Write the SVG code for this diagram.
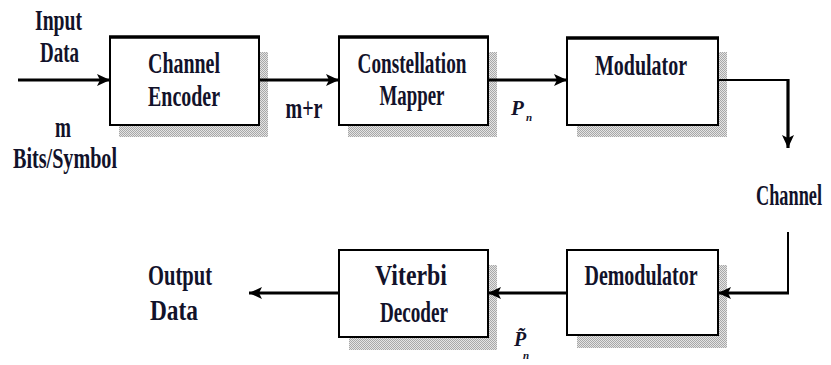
<svg xmlns="http://www.w3.org/2000/svg" width="831" height="365" viewBox="0 0 831 365">
  <style>
    .box { fill: #ffffff; stroke: #000000; stroke-width: 2; }
    .topedge { stroke: #000000; stroke-width: 3.5; }
    .shadow { fill: url(#dither); }
    .lbl { font-family: "Liberation Serif", "Times New Roman", serif; font-weight: bold; font-size: 29px; fill: #12122a; text-anchor: middle; }
    .sym { font-family: "Liberation Serif", "Times New Roman", serif; font-weight: bold; font-style: italic; fill: #12122a; }
    .wire { fill: none; stroke: #000000; stroke-width: 3.2; }
    .thin { fill: none; stroke: #000000; stroke-width: 2; }
  </style>
  <defs>
    <!-- dithered grey used for the drop shadows -->
    <pattern id="dither" width="2" height="2" patternUnits="userSpaceOnUse">
      <rect width="2" height="2" fill="#e4e4e4"/>
      <rect width="1" height="1" fill="#a8a8a8"/>
      <rect x="1" y="1" width="1" height="1" fill="#a8a8a8"/>
    </pattern>
    <marker id="arrow" markerUnits="userSpaceOnUse" markerWidth="14" markerHeight="14" refX="13" refY="7" orient="auto">
      <path d="M0,1 L13,7 L0,13 L3,7 Z" fill="#000000"/>
    </marker>
  </defs>

  <rect width="831" height="365" fill="#ffffff"/>

  <!-- side labels -->
  <g id="input-label">
    <text class="lbl" x="58.5" y="30" textLength="47" lengthAdjust="spacingAndGlyphs">Input</text>
    <text class="lbl" x="59.5" y="62" textLength="39" lengthAdjust="spacingAndGlyphs">Data</text>
    <text class="lbl" x="63" y="137" textLength="16" lengthAdjust="spacingAndGlyphs">m</text>
    <text class="lbl" x="65" y="168" textLength="104" lengthAdjust="spacingAndGlyphs">Bits/Symbol</text>
  </g>

  <g id="output-label">
    <text class="lbl" x="180" y="285" textLength="64" lengthAdjust="spacingAndGlyphs">Output</text>
    <text class="lbl" x="174" y="320" textLength="48" lengthAdjust="spacingAndGlyphs">Data</text>
  </g>

  <!-- narrow label near the right edge: condensed with a scale transform -->
  <g id="channel-label">
    <text class="lbl" transform="translate(789 205) scale(0.63 1)" x="0" y="0">Channel</text>
  </g>

  <!-- blocks -->
  <g id="channel-encoder">
    <rect class="shadow" x="119" y="52" width="149" height="85"/>
    <rect class="box" x="110" y="37" width="149" height="88"/>
    <line class="topedge" x1="109" y1="37" x2="260" y2="37"/>
    <text class="lbl" x="184" y="73" textLength="72" lengthAdjust="spacingAndGlyphs">Channel</text>
    <text class="lbl" x="184" y="106" textLength="72" lengthAdjust="spacingAndGlyphs">Encoder</text>
  </g>

  <g id="constellation-mapper">
    <rect class="shadow" x="348" y="52" width="149" height="85"/>
    <rect class="box" x="339" y="37" width="149" height="88"/>
    <line class="topedge" x1="338" y1="37" x2="489" y2="37"/>
    <text class="lbl" x="412" y="73" textLength="109" lengthAdjust="spacingAndGlyphs">Constellation</text>
    <text class="lbl" x="412" y="105" textLength="65" lengthAdjust="spacingAndGlyphs">Mapper</text>
  </g>

  <g id="modulator">
    <rect class="shadow" x="577" y="52" width="150" height="85"/>
    <rect class="box" x="567" y="38" width="151" height="87"/>
    <line class="topedge" x1="566" y1="38" x2="719" y2="38"/>
    <text class="lbl" x="641" y="75" textLength="92" lengthAdjust="spacingAndGlyphs">Modulator</text>
  </g>

  <g id="demodulator">
    <rect class="shadow" x="577" y="265" width="150" height="83"/>
    <rect class="box" x="567" y="250" width="151" height="85"/>
    <text class="lbl" x="641" y="285" textLength="113" lengthAdjust="spacingAndGlyphs">Demodulator</text>
  </g>

  <g id="viterbi-decoder">
    <rect class="shadow" x="349" y="265" width="148" height="85"/>
    <rect class="box" x="339" y="250" width="149" height="87"/>
    <text class="lbl" x="411" y="285" textLength="72" lengthAdjust="spacingAndGlyphs">Viterbi</text>
    <text class="lbl" x="414" y="322" textLength="68" lengthAdjust="spacingAndGlyphs">Decoder</text>
  </g>

  <!-- connectors -->
  <g id="connectors">
    <line class="wire" x1="18" y1="80" x2="110" y2="80" marker-end="url(#arrow)"/>
    <line class="wire" x1="259" y1="80" x2="339" y2="80" marker-end="url(#arrow)"/>
    <line class="wire" x1="488" y1="80" x2="567" y2="80" marker-end="url(#arrow)"/>
    <line class="thin" x1="718" y1="80" x2="789" y2="80"/>
    <line class="wire" x1="788" y1="79" x2="788" y2="148" marker-end="url(#arrow)"/>
    <line class="thin" x1="788" y1="232" x2="788" y2="294"/>
    <line class="wire" x1="789" y1="293" x2="718" y2="293" marker-end="url(#arrow)"/>
    <line class="wire" x1="567" y1="293" x2="488" y2="293" marker-end="url(#arrow)"/>
    <line class="wire" x1="339" y1="293" x2="249" y2="293" marker-end="url(#arrow)"/>
  </g>

  <!-- edge labels -->
  <g id="edge-labels">
    <text class="lbl" x="304" y="118" textLength="37" lengthAdjust="spacingAndGlyphs">m+r</text>
    <text class="sym" x="511" y="115" font-size="21">P</text>
    <text class="sym" x="526" y="121" font-size="11">n</text>
    <text class="sym" x="514" y="346" font-size="20">P&#x303;</text>
    <text class="sym" x="523" y="359" font-size="11">n</text>
  </g>
</svg>
